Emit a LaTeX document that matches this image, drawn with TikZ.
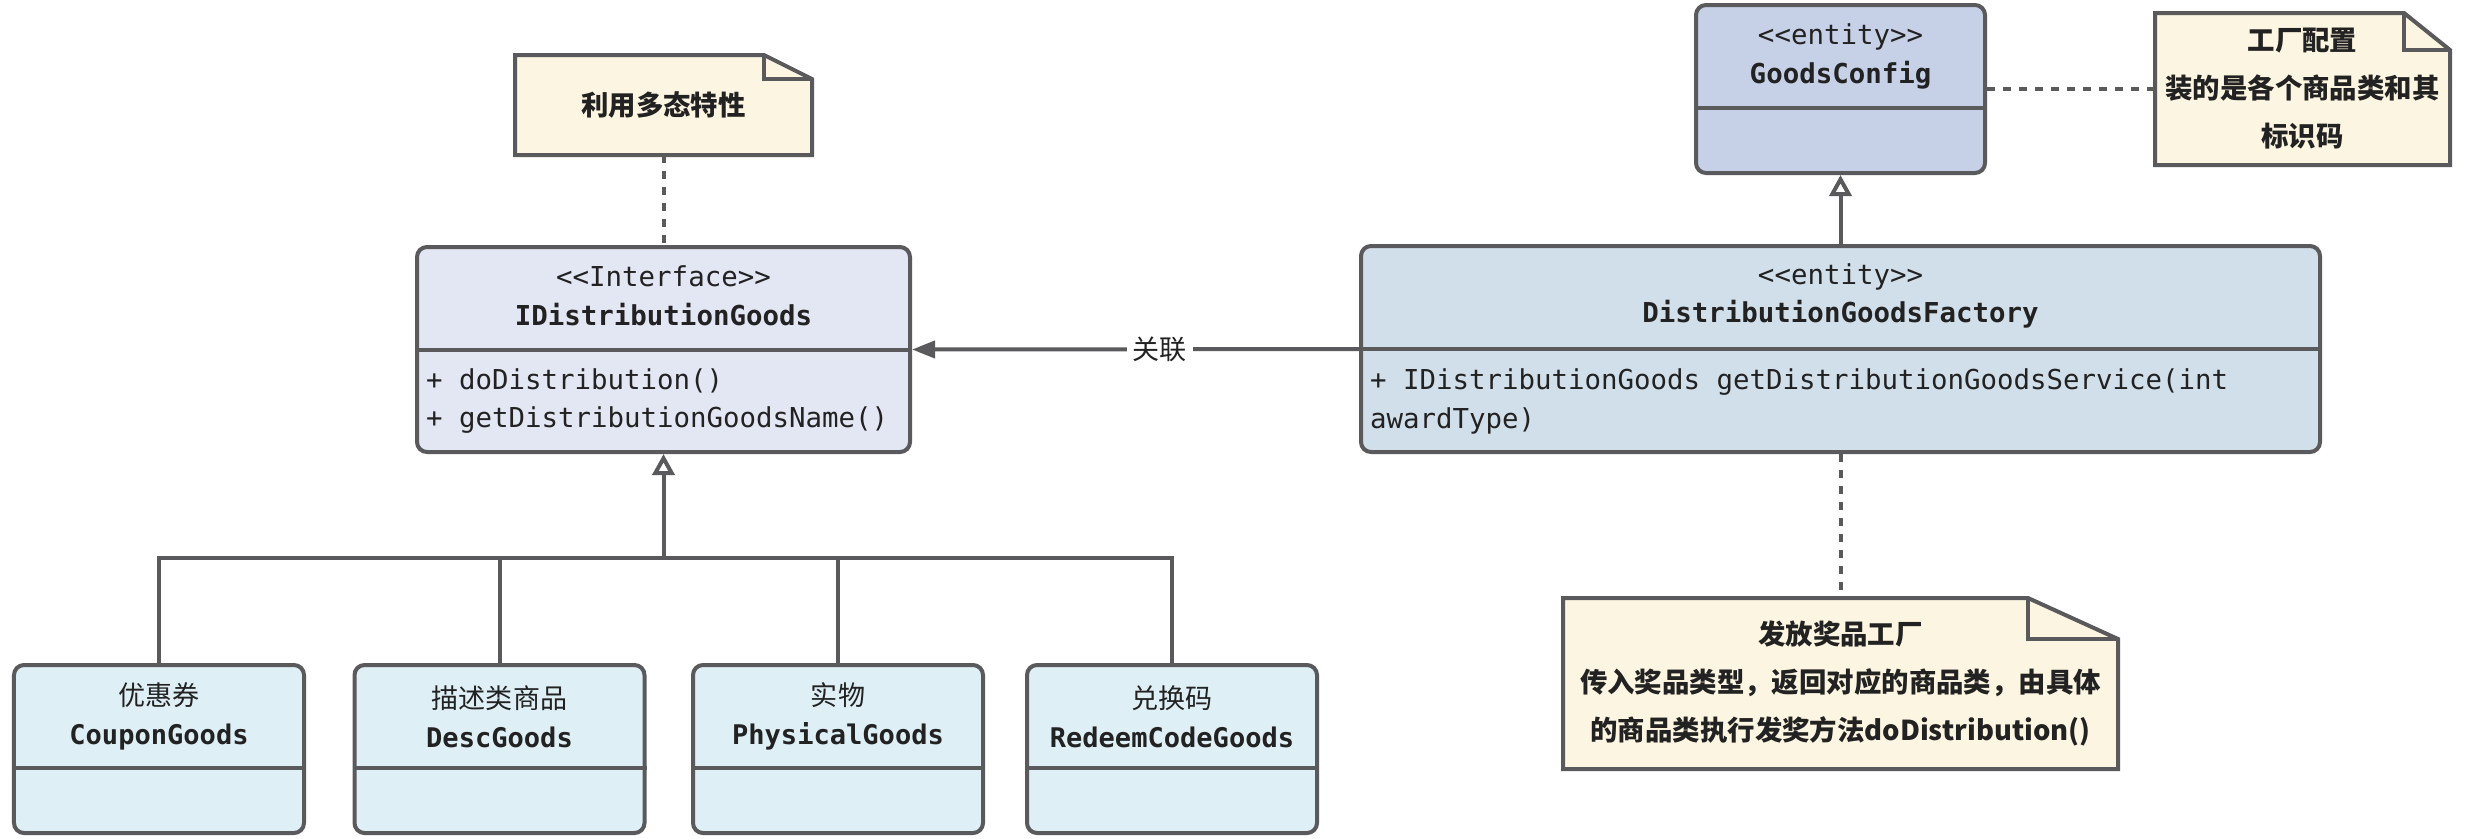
\documentclass[tikz,border=0pt]{standalone}
\usepackage{fontspec}
\setmainfont{Noto Sans CJK SC}
\setmonofont{DejaVu Sans Mono}
\usetikzlibrary{arrows.meta,positioning}

\definecolor{edge}{HTML}{5A5A5C}
\definecolor{ink}{HTML}{222222}
\definecolor{notefill}{HTML}{FCF5E1}
\definecolor{ifacefill}{HTML}{E3E6F3}
\definecolor{configfill}{HTML}{C6D0E7}
\definecolor{factoryfill}{HTML}{D1DFEA}
\definecolor{goodsfill}{HTML}{DFEFF6}

% note outline with a folded corner: node, fold width, fold height
\newcommand{\dogear}[3]{%
  \draw[fill=notefill] (#1.north west) -- ([xshift=-#2]#1.north east) -- ([yshift=-#3]#1.north east)
    -- (#1.south east) -- (#1.south west) -- cycle;
  \draw ([xshift=-#2]#1.north east) |- ([yshift=-#3]#1.north east);}

\begin{document}
\begin{tikzpicture}[align=center, color=edge, text=ink, every path/.style={line width=0.08cm},
  classbox/.style={draw=edge, line width=0.08cm, rounded corners=0.2cm, inner sep=0pt},
  goodsbox/.style={classbox, fill=goodsfill, minimum width=5.8cm, minimum height=3.36cm},
  notebox/.style={inner sep=0pt},
  notetext/.style={inner sep=0pt, font=\fontsize{15.6}{27.3}\selectfont\bfseries},
  mono/.style={inner sep=0pt, font=\ttfamily\fontsize{15.6}{21.9}\selectfont},
  label/.style={inner sep=0pt, font=\fontsize{15.4}{22.2}\selectfont},
  dots/.style={dash pattern=on 0.16cm off 0.16cm},
  inherit/.style={-{Triangle[open,length=0.42cm,width=0.44cm]}},
  assoc/.style={-{Triangle[length=0.46cm,width=0.34cm]}}]
\useasboundingbox (0,0) rectangle (49.36,-16.76);

% -------------------------------
\node (iface) [classbox, fill=ifacefill, minimum width=9.86cm, minimum height=4.1cm] at (13.27,-6.99) {};
\draw (iface.west) -- (iface.east);
\node (iface-head) [mono] at (13.27,-5.92) {<<Interface>>\\\textbf{IDistributionGoods}};
\node (iface-ops) [mono, anchor=west, align=left] at (8.48,-8.02) {+ doDistribution()\\+ getDistributionGoodsName()};

\node (factory) [classbox, fill=factoryfill, minimum width=19.18cm, minimum height=4.12cm] at (36.81,-6.98) {};
\draw (factory.west) -- (factory.east);
\node (factory-head) [mono] at (36.81,-5.92) {<<entity>>\\\textbf{DistributionGoodsFactory}};
\node (factory-ops) [mono, anchor=west, align=left] at (27.36,-8.03) {+ IDistributionGoods getDistributionGoodsService(int\\awardType)};

\node (config) [classbox, fill=configfill, minimum width=5.78cm, minimum height=3.36cm] at (36.81,-1.78) {};
\draw ([yshift=-0.38cm]config.west) -- ([yshift=-0.38cm]config.east);
\node (config-head) [mono] at (36.81,-1.13) {<<entity>>\\\textbf{GoodsConfig}};

% -------------------------------
\node (coupon) [goodsbox] at (3.18,-14.98) {};
\node (desc) [goodsbox] at (9.99,-14.98) {};
\node (physical) [goodsbox] at (16.76,-14.98) {};
\node (redeem) [goodsbox] at (23.44,-14.98) {};
\foreach \g in {coupon,desc,physical,redeem}
  \draw ([yshift=-0.38cm]\g.west) -- ([yshift=-0.38cm]\g.east);
\node (coupon-name) [label] at (3.18,-14.33) {优惠券\\\texttt{\textbf{CouponGoods}}};
\node (desc-name) [label] at (9.99,-14.33) {描述类商品\\\texttt{\textbf{DescGoods}}};
\node (physical-name) [label] at (16.76,-14.33) {实物\\\texttt{\textbf{PhysicalGoods}}};
\node (redeem-name) [label] at (23.44,-14.33) {兑换码\\\texttt{\textbf{RedeemCodeGoods}}};

% -------------------------------
\node (note1) [notebox, minimum width=5.86cm, minimum height=1.92cm] at (13.27,-2.10) {};
\dogear{note1}{0.96cm}{0.48cm}
\node (note1-text) [notetext] at (note1) {利用多态特性};

\node (note2) [notebox, minimum width=5.82cm, minimum height=2.96cm] at (46.05,-1.78) {};
\dogear{note2}{0.92cm}{0.74cm}
\node (note2-text) [notetext] at (note2) {工厂配置\\装的是各个商品类和其\\标识码};

\node (note3) [notebox, minimum width=11.02cm, minimum height=3.34cm] at (36.81,-13.67) {};
\dogear{note3}{1.8cm}{0.82cm}
\node (note3-text) [notetext] at (note3) {发放奖品工厂\\传入奖品类型，返回对应的商品类，由具体\\的商品类执行发奖方法doDistribution()};

% -------------------------------
\draw[dots] (note1.south) -- (iface.north);
\draw[dots] (config.east) -- (note2.west);
\draw[dots] (factory.south) -- (note3.north);
\draw[inherit] (factory.north) -- (config.south);
\draw[assoc] (factory.west) -- node (assoc-label) [label, fill=white, inner xsep=0.12cm, pos=0.446] {关联} (iface.east);

\coordinate (fork) at (13.27,-11.16);
\draw[inherit] (fork) -- (iface.south);
\foreach \g in {coupon,desc,physical,redeem}
  \draw (\g.north) |- (fork);
\end{tikzpicture}
\end{document}
